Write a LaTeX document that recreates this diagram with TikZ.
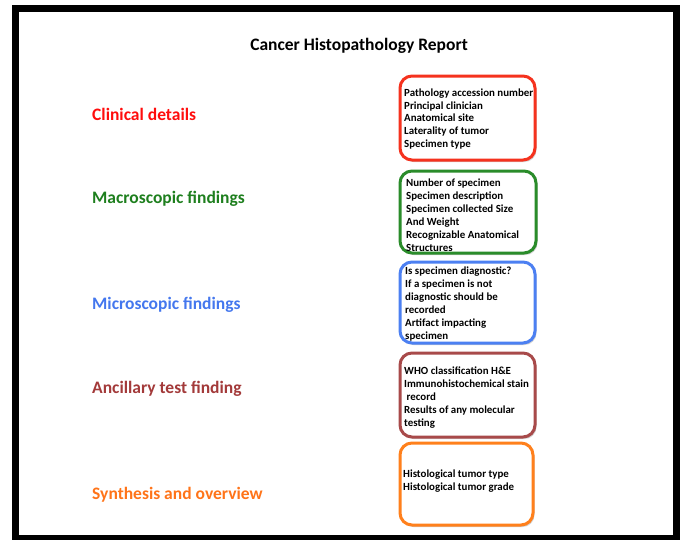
\documentclass[tikz,border=0pt]{standalone}
\usepackage{fontspec}
\setmainfont{Carlito}
\usetikzlibrary{shadows}
\definecolor{cred}{HTML}{FF0D0D}
\definecolor{cboxred}{HTML}{F5321E}
\definecolor{cgreen}{HTML}{1E7F1E}
\definecolor{cboxgreen}{HTML}{2A8C2A}
\definecolor{cblue}{HTML}{4477EE}
\definecolor{cboxblue}{HTML}{4C80F2}
\definecolor{cbrown}{HTML}{A33A3A}
\definecolor{cboxbrown}{HTML}{A84A4A}
\definecolor{corange}{HTML}{FF7419}
\definecolor{cboxorange}{HTML}{FF801C}
\tikzset{
  catlabel/.style={anchor=west, inner sep=0pt, font=\fontsize{17.5}{20}\selectfont\bfseries},
  infobox/.style={draw, line width=3pt, rounded corners=12pt, fill=white,
    drop shadow={opacity=0.35, shadow xshift=1.5pt, shadow yshift=-2pt}},
  infotext/.style={anchor=west, inner sep=0pt, align=left,
    font=\fontsize{10.9}{12.9}\selectfont\bfseries},
}
\begin{document}
\begin{tikzpicture}[x=1pt, y=-1pt]
\useasboundingbox (0,0) rectangle (680,539);
\fill[white] (0,0) rectangle (680,539);
\draw[line width=7pt] (15.5,8) rectangle (676,538);

\node[inner sep=0pt, font=\fontsize{17.5}{20}\selectfont\bfseries] (title) at (359,46) {Cancer Histopathology Report};

\node[catlabel, text=cred] (l1) at (92,114.5) {Clinical details};
\node[catlabel, text=cgreen] (l2) at (92,198.5) {Macroscopic findings};
\node[catlabel, text=cblue] (l3) at (92,304.5) {Microscopic findings};
\node[catlabel, text=cbrown] (l4) at (92,388.5) {Ancillary test finding};
\node[catlabel, text=corange] (l5) at (92,494.5) {Synthesis and overview};

\node[infobox, draw=cboxred, minimum width=135pt, minimum height=84pt] (b1) at (467.5,118) {};
\node[infobox, draw=cboxgreen, minimum width=136pt, minimum height=82pt] (b2) at (468,212) {};
\node[infobox, draw=cboxblue, minimum width=135pt, minimum height=81pt] (b3) at (467.5,302.5) {};
\node[infobox, draw=cboxbrown, minimum width=135pt, minimum height=84pt] (b4) at (467.5,395) {};
\node[infobox, draw=cboxorange, minimum width=133pt, minimum height=82pt] (b5) at (466.5,484) {};

\node[infotext] (t1) at (404,119) {Pathology accession number\\Principal clinician\\Anatomical site\\Laterality of tumor\\Specimen type};
\node[infotext] (t2) at (406,215) {Number of specimen\\Specimen description\\Specimen collected Size\\And Weight\\Recognizable Anatomical\\Structures};
\node[infotext] (t3) at (405,304) {Is specimen diagnostic?\\If a specimen is not\\diagnostic should be\\recorded\\Artifact impacting\\specimen};
\node[infotext] (t4) at (404,397.5) {WHO classification H\&E\\Immunohistochemical stain\\\hspace*{2.5pt}record\\Results of any molecular\\testing};
\node[infotext] (t5) at (403,481) {Histological tumor type\\Histological tumor grade};
\end{tikzpicture}
\end{document}
